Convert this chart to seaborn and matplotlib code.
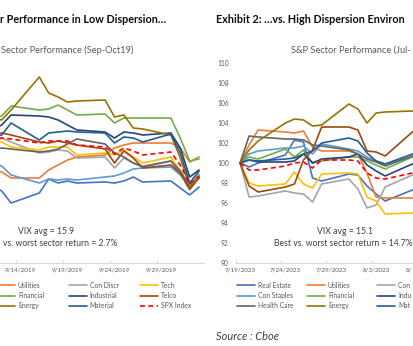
import numpy as np
import pandas as pd
import matplotlib
matplotlib.use("Agg")
import matplotlib.pyplot as plt
import matplotlib.dates as mdates
from matplotlib.lines import Line2D
import seaborn as sns

# ---------------- data ----------------
series_names = ["Real Estate", "Utilities", "Con Discr", "Tech",
                "Con Staples", "Financial", "Industrial", "Telco",
                "Health Care", "Energy", "Material", "SPX Index"]
series_colors = ["#4472C4", "#ED7D31", "#A5A5A5", "#FFC000",
                 "#5B9BD5", "#70AD47", "#264478", "#9E480E",
                 "#636363", "#997300", "#255E91", "#FF0000"]

dates_2019 = ["2019-09-11", "2019-09-12", "2019-09-13", "2019-09-16", "2019-09-17",
              "2019-09-18", "2019-09-19", "2019-09-20", "2019-09-23", "2019-09-24",
              "2019-09-25", "2019-09-26", "2019-09-27", "2019-09-30", "2019-10-01",
              "2019-10-02", "2019-10-03"]
real_estate_2019 = [97.8, 97.2, 96.0, 97.0, 98.4, 98.0, 98.2, 98.0, 98.1, 98.0, 98.2, 98.6, 98.1, 98.2, 97.5, 96.8, 97.6]
utilities_2019 = [99.4, 99.1, 98.5, 98.5, 99.3, 99.8, 100.3, 100.6, 100.8, 101.5, 101.8, 102.0, 102.0, 102.0, 101.5, 100.1, 100.6]
con_discr_2019 = [102.3, 102.5, 102.1, 101.0, 101.1, 101.3, 101.2, 100.5, 100.6, 99.5, 100.5, 100.0, 99.7, 100.2, 98.9, 97.3, 98.6]
tech_2019 = [102.0, 102.1, 101.6, 101.3, 101.6, 101.6, 101.6, 100.8, 101.0, 100.8, 101.3, 100.6, 100.0, 100.6, 99.2, 97.7, 98.9]
con_staples_2019 = [100.0, 99.7, 98.8, 98.0, 98.4, 98.3, 98.4, 98.3, 98.6, 98.7, 99.0, 99.4, 99.5, 99.6, 98.8, 97.8, 98.8]
financial_2019 = [104.4, 104.7, 105.7, 105.3, 105.4, 105.8, 105.3, 104.8, 104.9, 104.0, 104.5, 104.5, 104.5, 104.5, 102.5, 100.2, 100.4]
industrial_2019 = [103.3, 103.8, 104.8, 104.7, 104.6, 104.3, 103.8, 103.3, 103.1, 102.5, 103.1, 103.0, 102.8, 103.0, 101.5, 98.6, 99.3]
telco_2019 = [102.8, 103.0, 102.8, 102.1, 102.0, 102.2, 102.0, 101.8, 101.4, 100.0, 101.2, 100.5, 99.5, 99.8, 99.0, 97.4, 98.5]
health_care_2019 = [101.3, 101.5, 101.4, 101.1, 101.2, 101.4, 101.9, 102.4, 101.9, 101.0, 100.6, 100.0, 99.6, 100.2, 99.2, 97.6, 98.5]
energy_2019 = [104.5, 104.3, 105.3, 108.6, 107.0, 106.6, 106.1, 106.2, 106.3, 104.6, 104.8, 103.5, 103.4, 102.8, 100.5, 97.6, 98.6]
material_2019 = [102.5, 102.8, 104.0, 102.3, 103.0, 103.1, 103.2, 103.1, 103.0, 102.0, 102.6, 102.5, 102.1, 102.9, 101.0, 98.0, 99.2]
spx_2019 = [102.2, 102.5, 102.4, 102.0, 102.2, 102.2, 102.2, 101.8, 101.6, 100.9, 101.5, 101.2, 100.8, 101.1, 99.8, 97.9, 98.7]

dates_2023 = ["2023-07-19", "2023-07-20", "2023-07-21", "2023-07-24", "2023-07-25",
              "2023-07-26", "2023-07-27", "2023-07-28", "2023-07-31", "2023-08-01",
              "2023-08-02", "2023-08-03", "2023-08-04", "2023-08-07", "2023-08-08"]
real_estate_2023 = [100, 99.6, 100.0, 100.8, 102.3, 102.1, 98.5, 98.2, 98.9, 98.8, 97.7, 96.9, 96.2, 97.3, 97.5]
utilities_2023 = [100, 101.8, 103.3, 103.1, 103.0, 103.2, 101.6, 101.2, 101.2, 100.9, 99.0, 96.6, 96.5, 96.5, 96.5]
con_discr_2023 = [100, 96.6, 96.7, 97.2, 97.0, 96.9, 96.1, 97.9, 98.4, 97.4, 95.5, 95.8, 97.6, 98.8, 99.0]
tech_2023 = [100, 98.0, 97.7, 97.9, 99.1, 97.9, 97.5, 98.9, 99.0, 98.9, 96.6, 96.2, 94.9, 95.0, 95.0]
con_staples_2023 = [100, 100.9, 101.2, 101.5, 101.5, 101.7, 100.9, 101.9, 101.4, 101.2, 100.6, 100.2, 99.9, 100.6, 100.8]
financial_2023 = [100, 100.6, 100.4, 101.4, 100.6, 101.3, 100.0, 100.2, 100.6, 100.6, 100.2, 99.8, 99.4, 100.6, 100.8]
industrial_2023 = [100, 100.3, 100.1, 100.1, 100.2, 100.9, 100.0, 100.4, 100.6, 100.9, 99.8, 99.2, 98.7, 99.9, 100.1]
telco_2023 = [100, 97.7, 97.1, 97.6, 97.9, 100.3, 101.3, 103.6, 103.6, 103.3, 101.2, 101.1, 100.7, 103.1, 103.5]
health_care_2023 = [100, 102.7, 102.6, 102.4, 102.4, 102.3, 101.8, 101.7, 101.3, 100.9, 100.4, 100.1, 99.7, 100.7, 100.9]
energy_2023 = [100, 101.3, 102.2, 104.0, 104.4, 104.3, 103.7, 103.8, 105.9, 105.4, 104.0, 105.0, 105.1, 105.2, 105.2]
material_2023 = [100, 100.3, 100.2, 100.4, 100.5, 100.9, 101.2, 102.0, 102.5, 102.2, 101.0, 100.2, 99.9, 100.9, 101.0]
spx_2023 = [100, 99.3, 99.3, 99.7, 100.0, 100.1, 99.5, 100.3, 100.3, 100.2, 99.0, 98.5, 98.4, 99.0, 99.1]

tick_dates_2019 = ["2019-09-14", "2019-09-19", "2019-09-24", "2019-09-29"]
tick_labels_2019 = ["9/14/2019", "9/19/2019", "9/24/2019", "9/29/2019"]
tick_dates_2023 = ["2023-07-19", "2023-07-24", "2023-07-29", "2023-08-03", "2023-08-08"]
tick_labels_2023 = ["7/19/2023", "7/24/2023", "7/29/2023", "8/3/2023", "8/8/2023"]
y_ticks = [90, 92, 94, 96, 98, 100, 102, 104, 106, 108, 110]

title_left = "Exhibit 1: Sector Performance in Low Dispersion…"
title_right = "Exhibit 2: …vs. High Dispersion Environment"
sub_left = "S&P Sector Performance (Sep-Oct19)"
sub_right = "S&P Sector Performance (Jul-Aug23)"
vix_left = "VIX avg = 15.9"
vix_right = "VIX avg = 15.1"
spread_left = "Best vs. worst sector return = 2.7%"
spread_right = "Best vs. worst sector return = 14.7%"
source_text = "Source : Cboe"

values_2019 = [real_estate_2019, utilities_2019, con_discr_2019, tech_2019,
               con_staples_2019, financial_2019, industrial_2019, telco_2019,
               health_care_2019, energy_2019, material_2019, spx_2019]
values_2023 = [real_estate_2023, utilities_2023, con_discr_2023, tech_2023,
               con_staples_2023, financial_2023, industrial_2023, telco_2023,
               health_care_2023, energy_2023, material_2023, spx_2023]


def long_frame(dates, values):
    parts = []
    for name, vals in zip(series_names, values):
        parts.append(pd.DataFrame({"date": pd.to_datetime(dates), "value": vals, "series": name}))
    return pd.concat(parts, ignore_index=True)


df19 = long_frame(dates_2019, values_2019)
df23 = long_frame(dates_2023, values_2023)

# ---------------- style ----------------
sns.set_theme(style="white")
plt.rcParams['font.family'] = ['Lato', 'DejaVu Sans']

W, H = 414, 346
fig = plt.figure(figsize=(W / 100, H / 100), dpi=100)
fig.patch.set_facecolor("white")
renderer = fig.canvas.get_renderer()


def fx(px):
    return px / W


def fy(py):
    return 1 - py / H


def text_width(text, fs, **kw):
    t = fig.text(0, 0, text, fontsize=fs, **kw)
    w = t.get_window_extent(renderer=renderer).width
    t.remove()
    return w


def size_for(text, target_px, **kw):
    return 10 * target_px / text_width(text, 10, **kw)


def keep_right_part(text, x_end, fs, **kw):
    """Part of a right-aligned text that lies inside the picture (its left edge is cut off)."""
    s = text
    while s and text_width(s, fs, **kw) > x_end - 0.5:
        s = s[1:]
    return s


def keep_left_part(text, x_start, fs, **kw):
    """Part of a left-aligned text that lies inside the picture (its right edge is cut off)."""
    s = text
    while s and x_start + text_width(s, fs, **kw) > W - 0.5:
        s = s[:-1]
    return s


title_fs = 0.5 * (size_for("Exhibit 2: …vs. High Dispersion Environm", 197, weight="bold")
                  + size_for("r Performance in Low Dispersion…", 166, weight="bold"))
sub_fs = size_for("Sector Performance (Sep-Oct19)", 133)
note_fs = 0.5 * (size_for("VIX avg = 15.1", 55.5) + size_for("Best vs. worst sector return = 14.7%", 139))
tick_fs = size_for("7/19/2023", 31)
ytick_fs = size_for("110", 11.7)
leg_fs = size_for("Con Staples", 35)
src_fs = size_for("Source : Cboe", 63, style="italic")

TOP, BOTTOM = 63, 263
dash_styles = [""] * 11 + [(3, 2)]


def setup_axes(ax, first_date, first_px, px_per_day, left_px, right_px):
    d0 = mdates.date2num(pd.Timestamp(first_date))
    ax.set_xlim(d0 + (left_px - first_px) / px_per_day, d0 + (right_px - first_px) / px_per_day)
    ax.set_ylim(90, 110)
    for s in ["top", "right", "left"]:
        ax.spines[s].set_visible(False)
    ax.spines["bottom"].set_color("#D9D9D9")
    ax.spines["bottom"].set_linewidth(0.8)
    ax.set_xlabel("")
    ax.set_ylabel("")
    ax.set_facecolor("white")
    ax.grid(False)


# Left panel (Sep-Oct 2019), partly outside the picture on the left
L_FIRST, L_PPD = 20.5, 9.4
l_left, l_right = -260, 203.8
ax_l = fig.add_axes([fx(l_left), fy(BOTTOM), fx(l_right - l_left), (BOTTOM - TOP) / H])
sns.lineplot(data=df19, x="date", y="value", hue="series", hue_order=series_names,
             palette=series_colors, style="series", style_order=series_names,
             dashes=dash_styles, legend=False, lw=1.2, ax=ax_l, estimator=None, sort=False)
setup_axes(ax_l, "2019-09-14", L_FIRST, L_PPD, l_left, l_right)
ax_l.set_yticks([])

# Right panel (Jul-Aug 2023), partly outside the picture on the right
R_FIRST, R_PPD = 240, 9.07
r_left, r_right = 235.5, 640
ax_r = fig.add_axes([fx(r_left), fy(BOTTOM), fx(r_right - r_left), (BOTTOM - TOP) / H])
sns.lineplot(data=df23, x="date", y="value", hue="series", hue_order=series_names,
             palette=series_colors, style="series", style_order=series_names,
             dashes=dash_styles, legend=False, lw=1.2, ax=ax_r, estimator=None, sort=False)
setup_axes(ax_r, "2023-07-19", R_FIRST, R_PPD, r_left, r_right)
ax_r.set_yticks(y_ticks)
ax_r.set_yticklabels([str(v) for v in y_ticks])
ax_r.tick_params(axis="y", length=0, pad=5, labelsize=ytick_fs, labelcolor="#595959")


def date_px(date, first_date, first_px, ppd):
    return first_px + (pd.Timestamp(date) - pd.Timestamp(first_date)).days * ppd


for ax, td, tl, fd, fp, ppd in [(ax_l, tick_dates_2019, tick_labels_2019, "2019-09-14", L_FIRST, L_PPD),
                                (ax_r, tick_dates_2023, tick_labels_2023, "2023-07-19", R_FIRST, R_PPD)]:
    nums = [mdates.date2num(pd.Timestamp(d)) for d in td]
    inside = []
    labels = []
    for n, d, lab in zip(nums, td, tl):
        cx = date_px(d, fd, fp, ppd)
        half = text_width(lab, tick_fs) / 2
        if cx + half <= W - 0.5:
            inside.append(n)
            labels.append(lab)
        else:
            # tick label reaching past the right edge: keep only the part that is visible
            part = keep_left_part(lab, cx - half - 2, tick_fs)
            if part:
                fig.text(fx(cx - half - 2), fy(268), part, ha="left", va="top",
                         fontsize=tick_fs, color="#595959")
    ax.set_xticks(inside)
    ax.set_xticklabels(labels)
    ax.set_xticks([n - 0.5 for n in nums], minor=True)
    ax.tick_params(axis="x", which="major", length=0, pad=3.2, labelsize=tick_fs, labelcolor="#595959")
    ax.tick_params(axis="x", which="minor", length=2.5, width=0.8, color="#D9D9D9", direction="in", bottom=True)

# ---------------- texts ----------------
tkw = dict(weight="bold")
fig.text(fx(0.5), fy(22.7), keep_right_part(title_left, 168, title_fs, **tkw), ha="left",
         va="baseline", fontsize=title_fs, color="#0D0D0D", **tkw)
fig.text(fx(216.5), fy(22.7), keep_left_part(title_right, 216.5, title_fs, **tkw), ha="left",
         va="baseline", fontsize=title_fs, color="#0D0D0D", **tkw)
fig.text(fx(133), fy(52.7), keep_right_part(sub_left, 133, sub_fs), ha="right", va="baseline",
         fontsize=sub_fs, color="#595959")
fig.text(fx(291), fy(52.7), keep_left_part(sub_right, 291, sub_fs), ha="left", va="baseline",
         fontsize=sub_fs, color="#595959")
fig.text(fx(46), fy(234), vix_left, ha="center", va="baseline", fontsize=note_fs, color="#404040")
fig.text(fx(345.5), fy(234), vix_right, ha="center", va="baseline", fontsize=note_fs, color="#404040")
fig.text(fx(117), fy(246.5), keep_right_part(spread_left, 117, note_fs), ha="right", va="baseline",
         fontsize=note_fs, color="#404040")
fig.text(fx(274), fy(246.5), keep_left_part(spread_right, 274, note_fs), ha="left", va="baseline",
         fontsize=note_fs, color="#404040")
fig.text(fx(216.5), fy(340.5), source_text, ha="left", va="baseline", fontsize=src_fs,
         style="italic", color="#404040")

# ---------------- legends (4 columns each, filled row-wise like the source) ----------------
leg_px = leg_fs * 100 / 72
HANDLE_PX, PAD_PX = 18, 3


def make_handle(i):
    ls = (0, (3, 2)) if series_names[i] == "SPX Index" else "-"
    return Line2D([0], [0], color=series_colors[i], lw=1.2, linestyle=ls)


def add_legend(col_xs):
    for c, x in enumerate(col_xs):
        text_x = x + HANDLE_PX + PAD_PX
        if text_x >= W - 2 or x + HANDLE_PX <= 0:
            continue  # column lies entirely outside the picture
        idx = [c, c + 4, c + 8]
        labels = [keep_left_part(series_names[i], text_x, leg_fs) for i in idx]
        fig.legend([make_handle(i) for i in idx], labels,
                   loc="upper left", bbox_to_anchor=(fx(x), fy(281.5)),
                   frameon=False, fontsize=leg_fs, labelcolor="#595959",
                   handlelength=HANDLE_PX / leg_px, handletextpad=PAD_PX / leg_px,
                   borderpad=0, borderaxespad=0, labelspacing=0.5)


add_legend([-74.5, -3, 68.5, 140])
add_legend([237, 307, 377, 447])

fig.savefig("out.png", dpi=100, facecolor="white")
